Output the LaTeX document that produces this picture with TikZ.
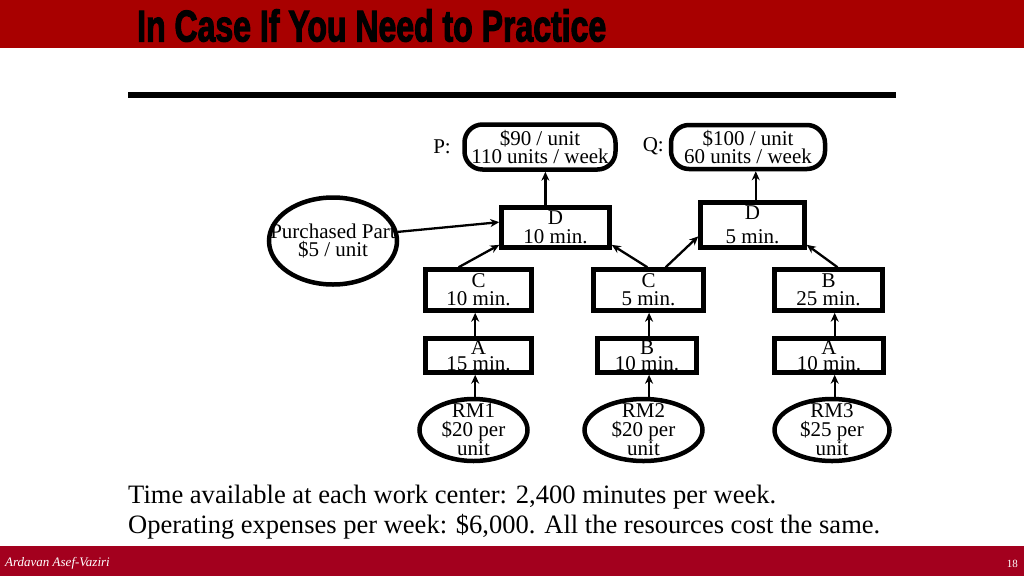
\documentclass[tikz,border=0pt]{standalone}
\usepackage{fontspec}
\usepackage{graphicx}
\setmainfont{Liberation Serif}
\newfontfamily\titlefont[FakeBold=3]{Liberation Sans Bold}
\usetikzlibrary{shapes.geometric,arrows.meta,calc}
\definecolor{topred}{HTML}{A80000}
\definecolor{footred}{HTML}{A3001E}
\begin{document}
\begin{tikzpicture}[x=1pt,y=-1pt,
  lbl/.style={font=\fontsize{21}{18}\selectfont, align=center, inner sep=0pt},
  proc/.style={draw, line width=4.5pt, rectangle, lbl},
  prod/.style={draw, line width=4.5pt, rounded corners=18pt, lbl},
  rm/.style={draw, line width=4.5pt, ellipse, lbl, inner xsep=-40pt, inner ysep=-30pt},
  arr/.style={line width=2.3pt, -{Stealth[length=9pt,width=8pt]}},
]
\useasboundingbox (0,0) rectangle (1024,576);
% bands
\fill[topred] (0,0) rectangle (1024,48);
\fill[footred] (0,546) rectangle (1024,576);
\node[anchor=south west, inner sep=0pt] (title) at (137,42)
  {\resizebox{469pt}{32pt}{\titlefont In Case If You Need to Practice}};
\fill[black] (128,92) rectangle (896,98);

% products
\node[prod, minimum width=151pt, minimum height=45pt] (p) at (540,147) {\$90 / unit\\110 units / week};
\node[prod, minimum width=154pt, minimum height=44pt] (q) at (748,147) {\$100 / unit\\60 units / week};
\node[lbl, anchor=east] (plbl) at (451,147) {P:};
\node[lbl, anchor=east] (qlbl) at (664,146) {Q:};

% D stations
\node[proc, minimum width=108pt, minimum height=40pt, font=\fontsize{21}{19}\selectfont] (d10) at (555.5,227.5) {D\\10 min.};
\node[proc, minimum width=104pt, minimum height=45pt, font=\fontsize{21}{24}\selectfont] (d5) at (752.5,225) {D\\5 min.};

% purchased part
\node[rm, minimum width=128pt, minimum height=87pt] (pp) at (333,241) {Purchased Part\\\$5 / unit};

% middle row
\node[proc, minimum width=106pt, minimum height=41pt] (c10) at (478.5,290) {C\\10 min.};
\node[proc, minimum width=110pt, minimum height=41pt] (c5) at (648.5,290) {C\\5 min.};
\node[proc, minimum width=108pt, minimum height=41pt] (b25) at (828.5,290) {B\\25 min.};

% lower row
\node[proc, minimum width=106pt, minimum height=34pt, font=\fontsize{21}{16}\selectfont] (a15) at (478.5,355.5) {A\\15 min.};
\node[proc, minimum width=99pt, minimum height=34pt, font=\fontsize{21}{16}\selectfont] (b10) at (647,355.5) {B\\10 min.};
\node[proc, minimum width=109pt, minimum height=34pt, font=\fontsize{21}{16}\selectfont] (a10) at (829,355.5) {A\\10 min.};

% raw materials
\node[rm, minimum width=108pt, minimum height=62pt, font=\fontsize{21}{19}\selectfont] (rm1) at (473.5,430) {RM1\\\$20 per\\unit};
\node[rm, minimum width=118pt, minimum height=62pt, font=\fontsize{21}{19}\selectfont] (rm2) at (643.5,430) {RM2\\\$20 per\\unit};
\node[rm, minimum width=115pt, minimum height=62pt, font=\fontsize{21}{19}\selectfont] (rm3) at (832,430) {RM3\\\$25 per\\unit};

% arrows
\coordinate (d10t) at ($(d10.north west)!0.41!(d10.north east)$);
\draw[arr] (d10t) -- (d10t |- p.south);
\coordinate (d5t) at ($(d5.north west)!0.53!(d5.north east)$);
\draw[arr] (d5t) -- (d5t |- q.south);

\draw[arr] (pp.8) -- ($(d10.south west)!0.62!(d10.north west)$);
\draw[arr] ($(c10.north west)!0.32!(c10.north east)$) -- ($(d10.south west)!0.11!(d10.north west)$);
\draw[arr] ($(c5.north west)!0.49!(c5.north east)$) -- ($(d10.south east)!0.11!(d10.north east)$);
\draw[arr] ($(c5.north west)!0.65!(c5.north east)$) -- ($(d5.south west)!0.27!(d5.north west)$);
\draw[arr] ($(b25.north west)!0.58!(b25.north east)$) -- ($(d5.south east)!0.10!(d5.north east)$);

\coordinate (x1) at ($(a15.north west)!0.47!(a15.north east)$);
\draw[arr] (x1) -- (x1 |- c10.south);
\coordinate (x2) at ($(b10.north west)!0.52!(b10.north east)$);
\draw[arr] (x2) -- (x2 |- c5.south);
\coordinate (x3) at ($(a10.north west)!0.55!(a10.north east)$);
\draw[arr] (x3) -- (x3 |- b25.south);

\coordinate (r1) at (rm1.north -| x1);
\draw[arr] (r1) -- (r1 |- a15.south);
\coordinate (r2) at (rm2.north -| x2);
\draw[arr] (r2) -- (r2 |- b10.south);
\coordinate (r3) at (rm3.north -| x3);
\draw[arr] (r3) -- (r3 |- a10.south);

% bottom text
\node[anchor=base west, inner sep=0pt] (t1) at (128,503)
  {\resizebox{648pt}{!}{\fontsize{23}{23}\selectfont Time available at each work center: 2,400 minutes per week.}};
\node[anchor=base west, inner sep=0pt] (t2) at (128,533)
  {\resizebox{752pt}{!}{\fontsize{23}{23}\selectfont Operating expenses per week: \$6,000. All the resources cost the same.}};

% footer
\node[anchor=west, text=white, inner sep=0pt, font=\itshape\fontsize{13}{13}\selectfont] (auth) at (5,563) {Ardavan Asef-Vaziri};
\node[anchor=east, text=white, inner sep=0pt, font=\fontsize{11}{11}\selectfont] (pg) at (1018,564) {18};
\end{tikzpicture}
\end{document}
